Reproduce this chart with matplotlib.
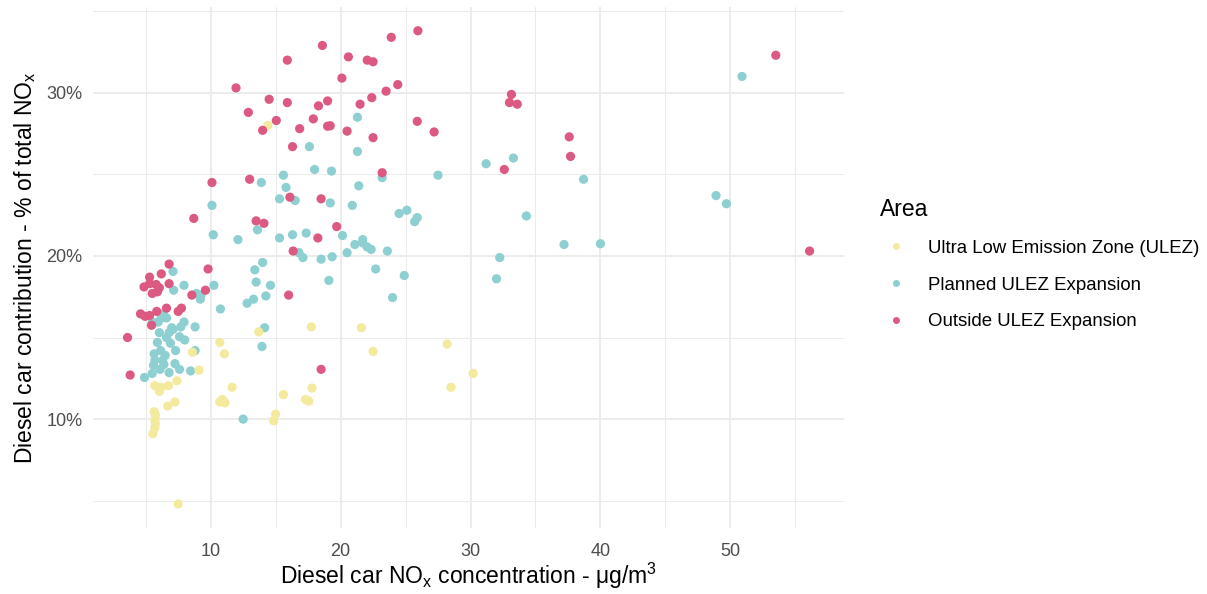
import numpy as np
import matplotlib
matplotlib.use("Agg")
import matplotlib.pyplot as plt
from matplotlib.lines import Line2D
from matplotlib.ticker import FixedLocator, FuncFormatter

plt.rcParams['font.family'] = ['Liberation Sans', 'DejaVu Sans']

# Ultra Low Emission Zone (ULEZ)
ulez_x = [14.4, 13.7, 17.75, 21.6, 22.5, 28.2, 30.2, 28.5, 15.6, 17.8, 17.3, 17.55, 15.0, 14.85,
          10.7, 11.05, 8.6, 9.1, 7.4, 5.7, 6.2, 6.75, 6.05, 11.65, 7.25, 6.7, 10.7, 10.9, 11.1,
          5.65, 5.75, 5.7, 5.75, 5.7, 5.55, 7.5]
ulez_y = [28.0, 15.35, 15.65, 15.6, 14.15, 14.6, 12.8, 11.95, 11.5, 11.9, 11.2, 11.1, 10.3, 9.9,
          14.7, 14.0, 14.1, 13.0, 12.35, 12.05, 11.95, 12.05, 11.7, 11.95, 11.05, 10.8, 11.05, 11.2, 11.0,
          10.45, 10.25, 9.95, 9.7, 9.45, 9.1, 4.8]

# Planned ULEZ Expansion
planned_x = [10.2, 12.1, 7.1, 7.95, 7.15, 8.9, 9.25, 9.2, 10.25, 10.75, 6.35, 6.2, 6.6, 5.5, 5.95,
             7.95, 7.0, 7.7, 8.8, 6.05, 6.8, 7.1, 7.6, 6.6, 8.0, 5.9, 6.9, 7.3, 8.8,
             5.65, 6.15, 6.5, 5.7, 6.3, 5.6, 6.4, 6.1, 5.5, 7.25, 7.6, 6.8, 8.45, 4.9,
             21.3, 17.6, 21.3, 18.0, 19.3, 15.6, 23.2, 13.9, 15.8, 21.4, 15.3, 16.5, 19.2, 20.9,
             24.5, 25.1, 10.1, 13.6, 15.3, 16.3, 17.35, 20.15, 21.7,
             16.8, 17.1, 18.5, 19.35, 20.5, 21.1, 21.7, 22.05, 22.35, 23.6, 14.0, 13.4, 13.5, 14.6,
             14.25, 13.3, 12.8, 19.1, 22.7, 24.9, 24.0, 32.25, 32.0, 14.15, 13.95, 12.5,
             50.9, 27.5, 31.2, 33.3, 38.7, 48.9, 49.7, 25.9, 25.7, 34.3, 37.2, 40.0]
planned_y = [21.3, 21.0, 19.05, 18.2, 17.9, 17.7, 17.6, 17.35, 18.2, 16.75, 16.45, 16.2, 16.2, 15.95, 15.95,
             15.95, 15.6, 15.65, 15.65, 15.3, 15.3, 15.5, 15.05, 15.0, 14.85, 14.7, 14.65, 14.2, 14.2,
             14.0, 14.2, 13.9, 13.6, 13.6, 13.3, 13.35, 13.05, 12.8, 13.4, 13.05, 12.85, 12.95, 12.55,
             28.5, 26.7, 26.4, 25.3, 25.2, 24.95, 24.8, 24.5, 24.2, 24.3, 23.5, 23.4, 23.25, 23.1,
             22.6, 22.8, 23.1, 21.6, 21.1, 21.3, 21.4, 21.25, 21.0,
             20.2, 19.9, 19.8, 19.95, 20.2, 20.7, 20.8, 20.55, 20.4, 20.3, 19.6, 19.15, 18.4, 18.2,
             17.55, 17.35, 17.1, 18.5, 19.2, 18.8, 17.45, 19.9, 18.6, 15.6, 14.45, 10.0,
             31.0, 24.95, 25.65, 26.0, 24.7, 23.7, 23.2, 22.35, 22.1, 22.45, 20.7, 20.75]

# Outside ULEZ Expansion
outside_x = [6.8, 9.8, 6.2, 5.3, 4.87, 5.3, 5.8, 6.05, 5.5, 5.9, 6.8, 8.55, 9.6, 4.6, 4.95, 5.3,
             5.85, 6.6, 7.5, 7.75, 5.45, 3.6, 3.8,
             23.9, 18.6, 15.9, 20.6, 22.05, 22.5, 20.1, 24.4, 11.95, 23.5, 22.4, 14.5, 15.9, 19.0,
             18.3, 21.5, 12.9, 15.05, 17.9, 19.0, 19.2, 14.0, 16.85, 20.5, 22.5, 16.3, 23.2, 10.1,
             13.0, 16.1, 18.5, 8.7, 13.5, 14.1, 19.7, 18.25, 16.35, 16.0, 18.5,
             25.95, 53.5, 33.15, 33.0, 33.6, 25.9, 27.2, 37.6, 37.7, 32.6, 56.1]
outside_y = [19.5, 19.2, 18.9, 18.7, 18.1, 18.3, 18.25, 18.05, 17.7, 17.8, 18.3, 17.6, 17.9, 16.45, 16.3, 16.35,
             16.6, 16.8, 16.6, 16.8, 15.75, 15.0, 12.7,
             33.4, 32.9, 32.0, 32.2, 32.0, 31.9, 30.9, 30.5, 30.3, 30.1, 29.7, 29.6, 29.4, 29.5,
             29.2, 29.3, 28.8, 28.3, 28.4, 27.95, 27.98, 27.7, 27.8, 27.65, 27.25, 26.7, 25.1, 24.5,
             24.7, 23.6, 23.5, 22.3, 22.15, 22.0, 21.8, 21.1, 20.3, 17.6, 13.05,
             33.8, 32.3, 29.9, 29.4, 29.3, 28.25, 27.6, 27.3, 26.1, 25.3, 20.3]

area_labels = ["Ultra Low Emission Zone (ULEZ)", "Planned ULEZ Expansion", "Outside ULEZ Expansion"]
area_colors = ["#F4EA9E", "#8ECFD1", "#DC5A82"]

fig = plt.figure(figsize=(12.07, 5.94), dpi=100)
ax = fig.add_axes([0.0774, 0.1118, 0.6216, 0.8762])

series = [(ulez_x, ulez_y), (planned_x, planned_y), (outside_x, outside_y)]
for (xs, ys), col, z in zip(series, area_colors, [3, 2, 4]):
    ax.scatter(xs, ys, s=44, color=col, edgecolors='none', zorder=z)

ax.margins(0.05)
ax.xaxis.set_major_locator(FixedLocator([10, 20, 30, 40, 50]))
ax.xaxis.set_minor_locator(FixedLocator([5, 15, 25, 35, 45, 55]))
ax.yaxis.set_major_locator(FixedLocator([10, 20, 30]))
ax.yaxis.set_minor_locator(FixedLocator([5, 15, 25, 35]))
ax.yaxis.set_major_formatter(FuncFormatter(lambda v, p: f"{v:.0f}%"))

ax.grid(True, which='major', color='#EBEBEB', linewidth=1.3)
ax.grid(True, which='minor', color='#EBEBEB', linewidth=0.7)
ax.set_axisbelow(True)
for sp in ax.spines.values():
    sp.set_visible(False)
ax.tick_params(which='both', length=0, labelsize=13, labelcolor='#4D4D4D')
ax.tick_params(axis='x', pad=11)
ax.tick_params(axis='y', pad=8)

ax.set_xlabel(r"Diesel car NO$_\mathregular{x}$ concentration - μg/m$^\mathregular{3}$", fontsize=16.5, labelpad=1)
ax.set_ylabel(r"Diesel car contribution - % of total NO$_\mathregular{x}$", fontsize=16.5, labelpad=6)

handles = [Line2D([], [], marker='o', linestyle='none', markersize=5, color=c, markeredgewidth=0)
           for c in area_colors]
leg = fig.legend(handles, area_labels, title="Area", loc='upper left',
                 bbox_to_anchor=(0.7227, 0.68), frameon=False, fontsize=13.4,
                 title_fontsize=16.5, labelspacing=1.05, handlelength=1.8, handletextpad=0.8,
                 borderaxespad=0)
leg._legend_box.align = "left"
leg._legend_box.sep = 14

fig.savefig("out.png", dpi=100)
